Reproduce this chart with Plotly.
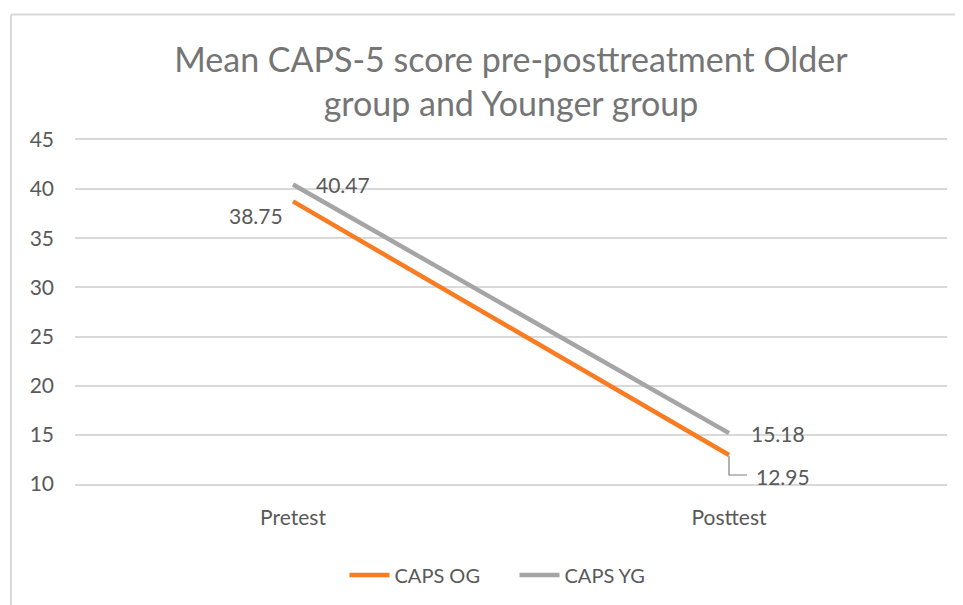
import plotly.graph_objects as go

categories = ["Pretest", "Posttest"]
caps_og = [38.75, 12.95]
caps_yg = [40.47, 15.18]
series_names = ["CAPS OG", "CAPS YG"]
title_text = "Mean CAPS-5 score pre-posttreatment Older<br>group and Younger group"

FONT = "Lato, Carlito, Calibri, sans-serif"
TXT = "#595959"
ORANGE = "#F97B22"
GRAY = "#A5A5A5"
GRID = "#D9D9D9"

fig = go.Figure()
fig.add_trace(go.Scatter(x=categories, y=caps_og, mode="lines", name=series_names[0],
                         line=dict(color=ORANGE, width=4.5), hoverinfo="skip"))
fig.add_trace(go.Scatter(x=categories, y=caps_yg, mode="lines", name=series_names[1],
                         line=dict(color=GRAY, width=4.5), hoverinfo="skip"))

lab_font = dict(family=FONT, size=21, color=TXT)
# data labels
fig.add_annotation(x=categories[0], y=caps_yg[0], text=f"{caps_yg[0]:.2f}", showarrow=False,
                   xanchor="left", yanchor="middle", xshift=21, yshift=0, font=lab_font)
fig.add_annotation(x=categories[0], y=caps_og[0], text=f"{caps_og[0]:.2f}", showarrow=False,
                   xanchor="right", yanchor="middle", xshift=-8, yshift=-14, font=lab_font)
fig.add_annotation(x=categories[1], y=caps_yg[1], text=f"{caps_yg[1]:.2f}", showarrow=False,
                   xanchor="left", yanchor="middle", xshift=20, yshift=0, font=lab_font)
fig.add_annotation(x=categories[1], y=caps_og[1], text=f"{caps_og[1]:.2f}", showarrow=False,
                   xanchor="left", yanchor="middle", xshift=25, yshift=-21, font=lab_font)
# leader line for 12.95
fig.add_shape(type="path", xref="x", yref="y", xsizemode="pixel", ysizemode="pixel",
              xanchor=categories[1], yanchor=caps_og[1],
              path="M 0,-1 L 0,-20 L 18,-20", line=dict(color="#7F7F7F", width=1.2))

# chart border (top and left edges visible)
fig.add_shape(type="line", xref="paper", yref="paper", x0=-0.0734, x1=1.1, y0=1.365, y1=1.365,
              line=dict(color=GRID, width=2), layer="below")
fig.add_shape(type="line", xref="paper", yref="paper", x0=-0.0734, x1=-0.0734, y0=1.365, y1=-0.4,
              line=dict(color=GRID, width=2), layer="below")

fig.update_layout(
    width=955, height=597,
    margin=dict(l=67, r=16, t=132, b=120),
    paper_bgcolor="white", plot_bgcolor="white",
    title=dict(text=title_text, x=0.5, xanchor="center", xref="paper", y=0.893, yanchor="middle",
               font=dict(family=FONT, size=34, color="#757575")),
    font=dict(family=FONT, color=TXT),
    showlegend=True,
    legend=dict(orientation="h", x=0.504, xanchor="center", y=-0.261, yanchor="middle",
                font=dict(family=FONT, size=20, color=TXT), itemwidth=40,
                entrywidth=115, entrywidthmode="pixels", tracegroupgap=0),
    xaxis=dict(range=[-0.5, 1.5], showgrid=False, zeroline=False,
               showline=True, mirror=True, linecolor=GRID, linewidth=1.5,
               ticks="", ticklabelstandoff=14,
               tickfont=dict(family=FONT, size=21, color=TXT), fixedrange=True),
    yaxis=dict(range=[10, 45], dtick=5, tick0=10, showgrid=True, gridcolor=GRID, gridwidth=1.5,
               zeroline=False, showline=False, ticks="", ticklabelstandoff=20,
               tickfont=dict(family=FONT, size=21, color=TXT), fixedrange=True),
)

fig.write_html("out.html")
